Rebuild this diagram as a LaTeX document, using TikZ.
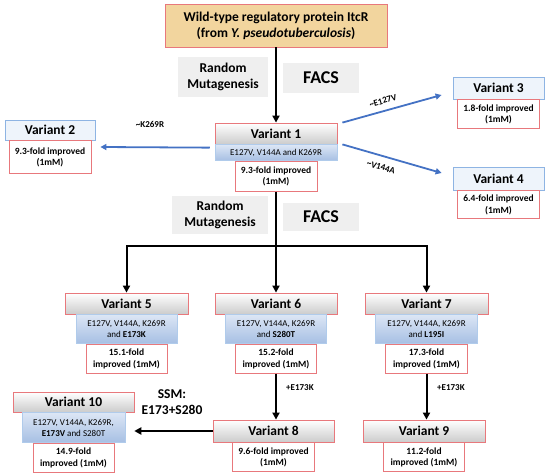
\documentclass[tikz,border=0pt]{standalone}
\usepackage{fontspec}
\setmainfont{Carlito}
\usetikzlibrary{arrows.meta}
\definecolor{redb}{HTML}{E8787C}
\definecolor{blueb}{HTML}{8EB4E3}
\definecolor{arrblue}{HTML}{4472C4}
\definecolor{graybox}{HTML}{EFEFEF}
\definecolor{tanfill}{HTML}{F2D59E}
\definecolor{mutTop}{HTML}{DCE6F5}
\definecolor{mutBot}{HTML}{A6BFE3}
\tikzset{
  topbox/.style={draw=redb, line width=0.9pt, fill=tanfill, align=center, inner sep=0pt,
    font=\bfseries\fontsize{13.5}{16}\selectfont},
  hdr/.style={draw=redb, line width=0.8pt, top color=white, bottom color=black!20, inner sep=0pt,
    font=\bfseries\fontsize{13.5}{15}\selectfont},
  dotbox/.style={draw=blueb, line width=0.8pt, fill=blueb!15, inner sep=0pt,
    font=\bfseries\fontsize{13.5}{15}\selectfont},
  mut/.style={draw=blueb!70, line width=0.5pt, top color=mutTop, bottom color=mutBot, align=center,
    inner sep=0pt, anchor=north, font=\fontsize{9}{11}\selectfont},
  res/.style={draw=redb, line width=0.8pt, fill=white, align=center, inner sep=0pt, anchor=north,
    font=\bfseries\fontsize{9.5}{11.5}\selectfont},
  glab/.style={fill=graybox, align=center, inner sep=0pt, font=\bfseries\fontsize{13.5}{15.5}\selectfont},
  flab/.style={fill=graybox, inner sep=0pt, font=\bfseries\fontsize{18}{20}\selectfont},
  mlab/.style={font=\bfseries\fontsize{9}{10}\selectfont, inner sep=0pt},
  barr/.style={line width=2pt, -{Triangle[length=7pt,width=7pt]}},
  bline/.style={line width=2pt},
  blarr/.style={arrblue, line width=1.8pt, -{Triangle[length=6pt,width=6pt]}}
}
\begin{document}
\begin{tikzpicture}[x=1pt,y=-1pt]
\useasboundingbox (0,0) rectangle (550,476);

% top
\node[topbox, minimum width=222pt, minimum height=43pt] (wt) at (276,25.5)
  {Wild-type regulatory protein ItcR\\(from \textit{Y. pseudotuberculosis})};
\node[glab, minimum width=90pt, minimum height=40pt] (rm1) at (223,77) {Random\\Mutagenesis};
\node[flab, minimum width=76pt, minimum height=30pt] (facs1) at (321,78) {FACS};

% variant 1
\node[hdr, minimum width=122pt, minimum height=21pt] (v1h) at (276,133.5) {Variant 1};
\node[mut, minimum width=122pt, minimum height=16pt] (v1b) at (v1h.south) {E127V, V144A and K269R};
\node[res, minimum width=82pt, minimum height=30pt] (v1r) at (v1b.south) {9.3-fold improved\\(1mM)};

% variant 2,3,4
\node[dotbox, minimum width=90pt, minimum height=20pt] (v2h) at (50,130) {Variant 2};
\node[res, minimum width=82pt, minimum height=33pt] (v2r) at (v2h.south) {9.3-fold improved\\(1mM)};
\node[dotbox, minimum width=91pt, minimum height=22pt] (v3h) at (498.5,88) {Variant 3};
\node[res, minimum width=82pt, minimum height=29pt] (v3r) at (v3h.south) {1.8-fold improved\\(1mM)};
\node[dotbox, minimum width=91pt, minimum height=23pt] (v4h) at (498.5,178.5) {Variant 4};
\node[res, minimum width=82pt, minimum height=28pt] (v4r) at (v4h.south) {6.4-fold improved\\(1mM)};

% second round labels
\node[glab, minimum width=96pt, minimum height=38pt] (rm2) at (220,215) {Random\\Mutagenesis};
\node[flab, minimum width=76pt, minimum height=28pt] (facs2) at (321,217) {FACS};

% variants 5,6,7
\node[hdr, minimum width=123pt, minimum height=21pt] (v5h) at (126.5,303.5) {Variant 5};
\node[mut, minimum width=101pt, minimum height=29pt] (v5b) at (v5h.south) {E127V, V144A, K269R\\and \textbf{E173K}};
\node[res, minimum width=81pt, minimum height=29pt] (v5r) at (v5b.south) {15.1-fold\\improved (1mM)};

\node[hdr, minimum width=122pt, minimum height=21pt] (v6h) at (276,303.5) {Variant 6};
\node[mut, minimum width=101pt, minimum height=29pt] (v6b) at (v6h.south) {E127V, V144A, K269R\\and \textbf{S280T}};
\node[res, minimum width=81pt, minimum height=29pt] (v6r) at (v6b.south) {15.2-fold\\improved (1mM)};

\node[hdr, minimum width=123pt, minimum height=21pt] (v7h) at (426.5,303.5) {Variant 7};
\node[mut, minimum width=102pt, minimum height=29pt] (v7b) at (v7h.south) {E127V, V144A, K269R\\and \textbf{L195I}};
\node[res, minimum width=82pt, minimum height=29pt] (v7r) at (v7b.south) {17.3-fold\\improved (1mM)};

% variants 8,9,10
\node[hdr, minimum width=121pt, minimum height=22pt] (v8h) at (273.5,431) {Variant 8};
\node[res, minimum width=82pt, minimum height=29pt] (v8r) at (v8h.south) {9.6-fold improved\\(1mM)};
\node[hdr, minimum width=122pt, minimum height=22pt] (v9h) at (424,431) {Variant 9};
\node[res, minimum width=81pt, minimum height=29pt] (v9r) at (v9h.south) {11.2-fold\\improved (1mM)};
\node[hdr, minimum width=121pt, minimum height=20pt] (v10h) at (73.5,402) {Variant 10};
\node[mut, minimum width=103pt, minimum height=30pt] (v10b) at (v10h.south) {E127V, V144A, K269R,\\\textbf{E173V} and S280T};
\node[res, minimum width=81pt, minimum height=29pt] (v10r) at (v10b.south) {14.9-fold\\improved (1mM)};

\node[align=center, inner sep=0pt, font=\bfseries\fontsize{13.5}{16}\selectfont] (ssm) at (172,402) {SSM:\\E173+S280};

% black connectors
\draw[barr] (wt.south) -- (v1h.north);
\coordinate (split) at (276,246);
\draw[bline] (v1r.south -| split) -- (split);
\draw[barr] (split) -- (v6h.north);
\draw[barr] (split) -| (v5h.north);
\draw[barr] (split) -| (v7h.north);
\draw[barr] (v6r.south) -- (v6r.south |- v8h.north);
\draw[barr] (v7r.south) -- (v7r.south |- v9h.north);
\coordinate (t10) at ([xshift=9pt]v10b.east);
\draw[barr] (v8h.west) -- (t10 |- v8h.west);
\node[mlab, anchor=west] (p1) at (286,388) {+E173K};
\node[mlab, anchor=west] (p2) at (437,388) {+E173K};

% blue connectors
\draw[blarr] ([xshift=5pt]v1h.north east) -- ([xshift=-11pt,yshift=-7pt]v3h.west);
\draw[blarr] ([xshift=5pt]v1h.south east) -- ([xshift=-11pt,yshift=5.5pt]v4h.west);
\draw[blarr] ([xshift=-5pt,yshift=5pt]v1b.west) -- ([xshift=5pt,yshift=-17pt]v2h.east);
\node[mlab, rotate=16] (l3) at (383,101) {\textasciitilde E127V};
\node[mlab, rotate=-16] (l4) at (381,167) {\textasciitilde V144A};
\node[mlab] (l2) at (150,124) {\textasciitilde K269R};
\end{tikzpicture}
\end{document}
